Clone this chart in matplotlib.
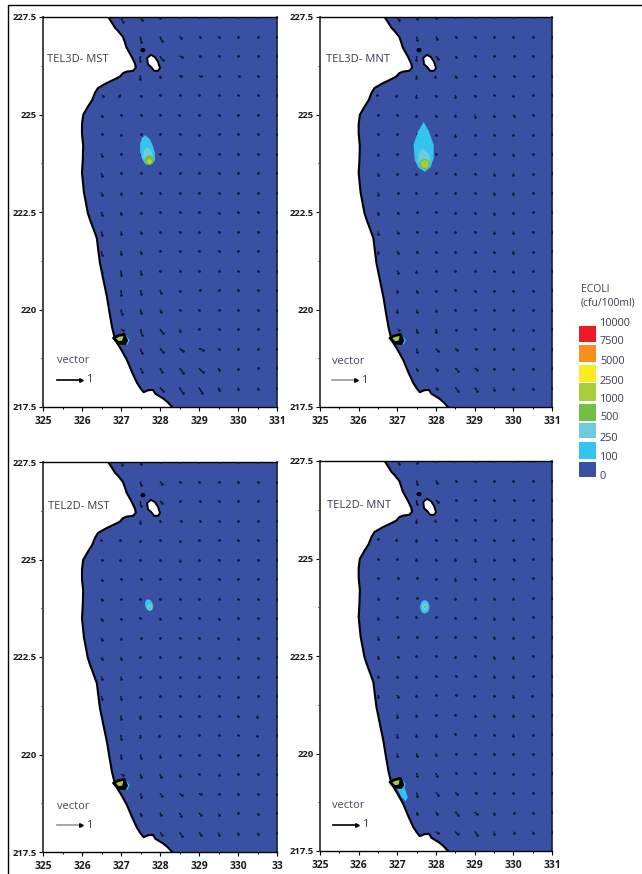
import numpy as np
import matplotlib
matplotlib.use('Agg')
import matplotlib.pyplot as plt
from matplotlib.patches import Polygon, Ellipse, Rectangle
from matplotlib.lines import Line2D

plt.rcParams['font.family'] = ['Open Sans', 'DejaVu Sans']

W, H = 642, 874
_ = np.nan

titles = ['TEL3D- MST', 'TEL3D- MNT', 'TEL2D- MST', 'TEL2D- MNT']
x_ticks = [325, 326, 327, 328, 329, 330, 331]
y_ticks = [217.5, 220, 222.5, 225, 227.5]
y_labels = ['217.5', '220', '222.5', '225', '227.5']

legend_labels = ['10000', '7500', '5000', '2500', '1000', '500', '250', '100', '0']
legend_colors = ['#ed1c24', '#f78e1e', '#f9ed1f', '#a6ce39', '#72bf44', '#6dccda', '#33c4f0', '#3a51a3']

coast_x = [326.67, 326.75, 326.85, 326.92, 327.05, 327.1, 327.14, 327.28, 327.36, 327.38, 327.31, 327.15, 327.05, 326.97,
           326.79, 326.62, 326.41, 326.33, 326.26, 326.15, 326.03, 326.0, 326.0, 326.03, 326.02, 326.0, 326.05, 326.15,
           326.21, 326.3, 326.38, 326.42, 326.46, 326.55, 326.64, 326.7, 326.77, 326.85, 327.0, 327.15, 327.28, 327.41,
           327.5, 327.58, 327.7, 327.82, 327.88, 327.98, 328.08, 328.2, 328.31]
coast_y = [227.5, 227.38, 227.22, 227.15, 226.99, 226.85, 226.72, 226.47, 226.3, 226.2, 226.12, 226.1, 226.06, 225.97,
           225.88, 225.8, 225.68, 225.55, 225.37, 225.2, 224.99, 224.75, 224.5, 224.2, 223.83, 223.5, 223.0, 222.47,
           222.29, 222.05, 221.83, 221.5, 221.19, 220.75, 220.32, 219.95, 219.55, 219.22, 218.98, 218.71, 218.4, 218.12,
           217.98, 217.88, 217.93, 217.94, 217.84, 217.78, 217.72, 217.62, 217.5]
island_x = [327.67, 327.77, 327.87, 327.95, 328.0, 327.95, 327.85, 327.77, 327.69]
island_y = [226.45, 226.53, 226.47, 226.35, 226.19, 226.12, 226.12, 226.22, 226.29]

# source block on the shore
block_x = [326.8, 326.92, 327.08, 327.15, 327.1, 326.95, 326.86]
block_y = [219.27, 219.33, 219.37, 219.2, 219.12, 219.13, 219.2]
block_in_x = [326.87, 326.95, 327.06, 327.03, 326.94]
block_in_y = [219.26, 219.3, 219.32, 219.2, 219.19]
block_cyan_x = [327.08, 327.22, 327.16]
block_cyan_y = [219.38, 219.22, 219.08]

# plume outlines, contour 100 and 250
p1_100_x = [327.62, 327.74, 327.82, 327.87, 327.87, 327.79, 327.72, 327.62, 327.54, 327.49, 327.49, 327.54]
p1_100_y = [224.47, 224.37, 224.19, 224.01, 223.83, 223.73, 223.71, 223.73, 223.86, 224.04, 224.24, 224.40]
p1_250_x = [327.67, 327.77, 327.82, 327.82, 327.72, 327.62, 327.56, 327.59]
p1_250_y = [224.17, 224.09, 223.94, 223.81, 223.73, 223.78, 223.91, 224.09]
p2_100_x = [327.68, 327.81, 327.94, 327.94, 327.86, 327.71, 327.55, 327.45, 327.42, 327.53]
p2_100_y = [224.81, 224.58, 224.22, 223.88, 223.65, 223.53, 223.63, 223.83, 224.22, 224.55]
p2_250_x = [327.65, 327.84, 327.84, 327.71, 327.53, 327.55]
p2_250_y = [224.14, 223.96, 223.76, 223.63, 223.78, 224.01]
p4_shore_x = [327.06, 327.14, 327.27, 327.22, 327.11, 326.98]
p4_shore_y = [219.37, 219.24, 218.88, 218.78, 218.88, 219.14]

# current vectors in hundredths, u+vj, rows y=227.5 down to 218, cols x=326.5 to 331
grid_x = [326.5, 327, 327.5, 328, 328.5, 329, 329.5, 330, 330.5, 331]
grid_y = [227.5, 227, 226.5, 226, 225.5, 225, 224.5, 224, 223.5, 223, 222.5, 222, 221.5, 221, 220.5, 220, 219.5, 219, 218.5, 218]

vec_3d_mst = [
    [_, 8-20j, 5-14j, 2-4j, 1, 0, 0, 0, 0, 0],
    [_, _, 2-22j, 8-20j, 8-6j, 3-2j, 2-1j, 2, 2, 0],
    [_, _, -2-20j, 11-18j, 9-4j, 6-2j, 3, 2, 1, 0],
    [_, _, -3-14j, 2-6j, 8-3j, 8-3j, 2, 3, 2, 0],
    [5-3j, -8-3j, 2-3j, 0, 2-2j, 1, 0, 1, 1, 0],
    [0-5j, 0-2j, 1-2j, 0, -1-3j, 0-3j, 0-2j, 1, 1, 0],
    [0-2j, 0-3j, 1-1j, 0-2j, 1-1j, 0-3j, 0, 0-2j, 1, 0],
    [1-10j, 0-1j, 0-1j, 1-1j, 1, -1-3j, 0-2j, 0, 1, 0],
    [1-12j, 0-1j, 0-1j, 1-1j, 1-2j, 1-2j, 1-2j, 0-2j, 1-1j, 0],
    [1-11j, 1-5j, 1-1j, 1, 0-3j, 1-2j, 0-2j, 1, 1-1j, 0],
    [1-12j, 1-10j, 3-6j, 1-1j, 1-1j, 1-2j, 0-3j, 1-1j, 0-2j, 0],
    [1-14j, 2-11j, 3-7j, 1, 1, 0, 0-2j, 0-2j, 0, 0],
    [1-16j, 1-13j, 3-9j, 0-2j, 1, 1, 0-2j, 0-2j, 0-2j, 0],
    [2-8j, 2-20j, 4-15j, 2-4j, 1-1j, 1, 1, 0-1j, 0-2j, 0],
    [_, 2-20j, 4-18j, 4-12j, 1-4j, 5-2j, 1, 0, 0-2j, 0],
    [_, 3-18j, 3-16j, 6-12j, 1, 1, 1, 0-2j, 0-1j, 0],
    [_, 8-6j, 6-24j, 12-18j, 3-8j, 1-2j, 1, 0-2j, 0-2j, 0],
    [_, _, 6-20j, 12-14j, 16-12j, 16-6j, 2, 1, 0-3j, 0],
    [_, _, 8-16j, 10-18j, 16-20j, 15-18j, 3-10j, 1-3j, 0, 0],
    [_, _, _, 14-16j, 14-24j, 14-24j, 2-12j, 1-6j, 1-6j, 0],
]
vec_3d_mnt = [
    [_, 6-14j, 2-10j, 1-3j, 0, 0, 0, 0, 0, 0],
    [_, _, 2-14j, 6-12j, 4-4j, 1-2j, 1-2j, 0-2j, 0-2j, 0],
    [_, _, -1-18j, 10-14j, 3-4j, 2-1j, 1, 1-1j, 1, 0],
    [_, _, -2-12j, -4-5j, 3-7j, 2-4j, 1, 1-2j, 1, 0],
    [-4-2j, -5-3j, -3-7j, -2-6j, 0-7j, 0-5j, 1-1j, 0-3j, 0-2j, 0],
    [-2-2j, 0-2j, -2-5j, -2-5j, 0-8j, 1-9j, 1-5j, 1-7j, 1-2j, 0],
    [0-1j, 0, 0-2j, 1-3j, 0-7j, 0-4j, 0-3j, 0-5j, 0-4j, 0],
    [0-7j, 0-1j, 0-1j, 0-1j, 0-6j, 0-4j, 0-4j, 0-5j, 0-2j, 0],
    [0-8j, -1-4j, -1-3j, 0-2j, 0-5j, 0-5j, 0-7j, 0-7j, 0-3j, 0],
    [1-9j, 2-3j, -1-3j, 1-1j, 0-3j, 0-3j, 0-7j, 0-7j, 0-3j, 0],
    [1-9j, 2-5j, 1-2j, 1-1j, 0-3j, 0-4j, 0-7j, 0-5j, 0-2j, 0],
    [2-9j, 1-7j, 0-4j, 1-1j, 0-3j, 1-1j, 0-6j, 0-7j, 0-3j, 0],
    [1-9j, 2-10j, 0-6j, 0-4j, 0-3j, 0-3j, 0-4j, -2-8j, 0-4j, 0],
    [_, 1-10j, -1-6j, 0-2j, 0-2j, 0-1j, 0-2j, 0-7j, 0-3j, 0],
    [_, 0-9j, 0-8j, 0-6j, 0-2j, 0-3j, 0-3j, 0-6j, 0-5j, 0],
    [_, 0-9j, 0-9j, 0-7j, 0-2j, 1, 1, 0-2j, 0-4j, 0],
    [_, 5-3j, 1-11j, 2-12j, 2-3j, 0-1j, 0, 0-3j, 0-3j, 0],
    [_, _, 2-13j, 8-11j, 8-5j, 5-4j, 2-2j, 0-3j, 0-4j, 0],
    [_, _, 1-8j, 5-10j, 10-11j, 11-9j, 0-6j, 0-5j, 1-6j, 0],
    [_, _, _, 6-8j, 11-13j, 11-13j, 0-9j, 0-6j, 0-5j, 0],
]
vec_2d_mst = [
    [_, 4-12j, 2-10j, 0-2j, 0, 0, 0, 0, 0, 0],
    [_, _, 2-16j, 8-10j, 3-2j, 1, 1, 1, 1, 0],
    [_, _, 0-20j, 8-10j, 3-1j, 3, 3, 2, 1, 0],
    [_, _, -2-12j, -1-4j, 5-4j, 5-1j, 3-1j, 2, 2-1j, 0],
    [-3-2j, -4-2j, -3-4j, 0-2j, 1-3j, 2-2j, 1, 0, 1-1j, 0],
    [0-3j, -3-2j, -3-2j, 0-2j, 1-6j, 0-2j, 0-4j, 1, 0-1j, 0],
    [0-3j, 1, 1-2j, 0-2j, 1, 1-2j, 1-1j, 1, 0-2j, 0],
    [1-8j, 0-1j, -1-1j, 0-2j, 1, 1-1j, 1-1j, 1, 1, 0],
    [0-10j, 0-5j, -1-1j, 0-3j, 0, 0, 0-6j, 0, 1, 0],
    [0-11j, 0-5j, 1-1j, 0-2j, 1, 0-3j, -1-4j, 0-5j, 1, 0],
    [1-10j, 0-8j, -1-2j, 0-2j, 0-1j, 0-3j, 0-3j, 0-3j, 0-3j, 0],
    [0-9j, 0-9j, -1-4j, -1-2j, 1, 0-1j, 0-1j, 0-4j, 0-1j, 0],
    [1-11j, 1-11j, -1-5j, -1-2j, 1, 1, 1, 0-3j, 0-2j, 0],
    [_, 1-15j, -2-12j, 0-2j, 1-1j, 1, 1, 0-3j, -2-6j, 0],
    [_, 1-15j, -1-10j, -3-5j, -1-4j, 0, 1, 0-2j, -1-5j, 0],
    [_, 2-14j, 1-13j, 2-9j, 0, 1, 1, 1, 0-3j, 0],
    [_, 8-5j, 2-14j, 3-13j, 4-7j, 1-2j, 1-3j, 1-2j, 1, 0],
    [_, _, 3-13j, 7-9j, 9-7j, 8-3j, 0, 1, 1, 0],
    [_, _, 2-10j, 5-10j, 8-11j, 9-9j, 0-7j, 1-2j, 0-3j, 0],
    [_, _, _, 8-9j, 10-13j, 9-11j, 0-10j, 0-6j, 0-6j, 0],
]
vec_2d_mnt = [
    [_, 6-12j, 2-8j, 1-2j, 0, 0, 0, 0, 0, 0],
    [_, _, 2-15j, 5-12j, 3-3j, 1-3j, 1-3j, 0-3j, 0-2j, 0],
    [_, _, 0-18j, 8-10j, 3-2j, 2-2j, 1, 1-1j, 1, 0],
    [_, _, -2-12j, -4-5j, 3-3j, 3-4j, 3-2j, 1-3j, 1, 0],
    [-2-2j, -6-3j, -3-8j, -2-6j, 1-5j, 1-6j, 0-4j, 0-4j, 0-2j, 0],
    [-2-3j, 0-3j, -3-7j, -2-6j, 0-8j, 1-10j, 1-6j, 1-8j, 1-2j, 0],
    [0-1j, 1, 0-2j, 0-3j, 0-7j, 0-5j, 0-4j, 0-6j, 0-2j, 0],
    [2-6j, 0-2j, 0-1j, 1-2j, 0-6j, 0-5j, 0-6j, 0-6j, 1, 0],
    [0-8j, -1-2j, -1-2j, 1-1j, 0-5j, 0-4j, 0-7j, 0-7j, 0-2j, 0],
    [1-9j, 1-3j, 0-1j, 1-1j, 0-4j, 0-3j, -1-7j, 0-5j, 1-1j, 0],
    [2-8j, 1-6j, -1-2j, 1-1j, 0-3j, 0-2j, -1-8j, 0-7j, 0-2j, 0],
    [2-8j, 0-6j, -1-5j, 1-1j, 1-1j, 0-3j, -1-7j, 0-7j, 0-4j, 0],
    [2-10j, 1-9j, -1-6j, 1-1j, 1-1j, -1-4j, 0-5j, -2-8j, -1-5j, 0],
    [_, 0-11j, -2-8j, 0-3j, 0-3j, 0-5j, 0-6j, 0-8j, 0-6j, 0],
    [_, 0-11j, -2-8j, 0-8j, 0-2j, 1-5j, -1-6j, 0-8j, 0-5j, 0],
    [_, 0-9j, 0-12j, 0-8j, 1-1j, 1, 1-1j, 0-2j, 0-4j, 0],
    [_, _, 2-11j, 3-11j, 2-2j, 0-2j, 0, 0-3j, 0-3j, 0],
    [_, _, 2-13j, 8-10j, 8-6j, 7-4j, 1-3j, 0-3j, 0-3j, 0],
    [_, _, 2-9j, 5-10j, 11-11j, 10-10j, 0-7j, 1-4j, 1-3j, 0],
    [_, _, _, 7-8j, 9-12j, 11-13j, 0-9j, 1-5j, 0-5j, 0],
]
vectors = [vec_3d_mst, vec_3d_mnt, vec_2d_mst, vec_2d_mnt]

# axes boxes in pixels: left, top, right, bottom
boxes = [(43, 17, 277, 407), (320, 17, 552, 407), (43, 462, 277, 852), (320, 461, 552, 851)]
title_pos = [(325.1, 226.4), (325.15, 226.4), (325.13, 226.35), (325.18, 226.35)]
key_pos = [(325.36, 218.2), (325.32, 218.18), (325.36, 218.18), (325.33, 218.17)]
key_color = ['black', '#999999', '#999999', 'black']
x_labels = [[str(t) for t in x_ticks] for i in range(4)]
x_labels[2][-1] = '33'

sea = legend_colors[7]
c100, c250, c500, c1000, c2500 = legend_colors[6], legend_colors[5], legend_colors[4], legend_colors[3], legend_colors[2]
UV_SCALE = 1 / 0.64

fig = plt.figure(figsize=(W / 100, H / 100), dpi=100)

for i, box in enumerate(boxes):
    l, t, r, b = box
    ax = fig.add_axes([l / W, 1 - b / H, (r - l) / W, (b - t) / H])
    ax.set_xlim(325, 331)
    ax.set_ylim(217.5, 227.5)
    ax.set_facecolor(sea)

    # plumes sit above the vectors
    if i == 0:
        ax.add_patch(Polygon(np.c_[p1_100_x, p1_100_y], fc=c100, ec='none', zorder=4))
        ax.add_patch(Polygon(np.c_[p1_250_x, p1_250_y], fc=c250, ec='none', zorder=4))
        ax.add_patch(Ellipse((327.72, 223.83), 0.24, 0.25, fc=c500, ec='none', zorder=4))
        ax.add_patch(Ellipse((327.73, 223.8), 0.12, 0.13, fc=c1000, ec='none', zorder=4))
        ax.add_patch(Ellipse((327.73, 223.78), 0.05, 0.05, fc=c2500, ec='none', zorder=4))
    elif i == 1:
        ax.add_patch(Polygon(np.c_[p2_100_x, p2_100_y], fc=c100, ec='none', zorder=4))
        ax.add_patch(Polygon(np.c_[p2_250_x, p2_250_y], fc=c250, ec='none', zorder=4))
        ax.add_patch(Ellipse((327.71, 223.73), 0.26, 0.27, fc=c500, ec='none', zorder=4))
        ax.add_patch(Ellipse((327.71, 223.73), 0.2, 0.2, fc=c1000, ec='none', zorder=4))
    elif i == 2:
        ax.add_patch(Ellipse((327.72, 223.83), 0.2, 0.3, angle=15, fc=c100, ec='none', zorder=4))
        ax.add_patch(Ellipse((327.74, 223.78), 0.13, 0.17, fc=c250, ec='none', zorder=4))
        ax.add_patch(Ellipse((327.74, 223.75), 0.05, 0.05, fc=c500, ec='none', zorder=4))
    else:
        ax.add_patch(Ellipse((327.71, 223.76), 0.24, 0.34, fc=c100, ec='none', zorder=4))
        ax.add_patch(Ellipse((327.71, 223.76), 0.15, 0.2, fc=c250, ec='none', zorder=4))
        ax.add_patch(Ellipse((327.71, 223.76), 0.05, 0.06, fc=c500, ec='none', zorder=4))
        ax.add_patch(Polygon(np.c_[p4_shore_x, p4_shore_y], fc=c100, ec='none'))

    land_x = coast_x + [325, 325]
    land_y = coast_y + [217.5, 227.5]
    ax.add_patch(Polygon(np.c_[land_x, land_y], fc='white', ec='none'))
    ax.plot(coast_x, coast_y, color='black', lw=1.5, solid_joinstyle='round')
    ax.add_patch(Polygon(np.c_[island_x, island_y], fc='white', ec='black', lw=1.4, joinstyle='round'))
    ax.add_patch(Ellipse((327.56, 226.65), 0.13, 0.11, fc='black', ec='none'))

    ax.add_patch(Polygon(np.c_[block_cyan_x, block_cyan_y], fc=c100, ec='none'))
    ax.add_patch(Polygon(np.c_[block_x, block_y], fc='black', ec='black', lw=1.6, joinstyle='round'))
    ax.add_patch(Polygon(np.c_[block_in_x, block_in_y], fc=c1000, ec='none'))

    vec = np.array(vectors[i], dtype=complex)
    gx, gy = np.meshgrid(grid_x, grid_y)
    u = vec.real / 100
    v = vec.imag / 100
    ax.quiver(gx, gy, u, v, angles='xy', scale_units='xy', scale=UV_SCALE,
              units='xy', width=0.04, headwidth=1, headlength=1, headaxislength=1,
              minlength=0.5, color='#10142e', zorder=3)
    # blob at the tip, the arrow heads in the source are just smudges at this size
    ax.scatter(gx + u / UV_SCALE, gy + v / UV_SCALE, s=3.6, color='#10142e', linewidths=0, zorder=3)

    ax.text(title_pos[i][0], title_pos[i][1], titles[i], fontsize=8, color='#3b3b52', va='center', ha='left')

    kx, ky = key_pos[i]
    ax.text(kx - 0.01, ky + 0.49, 'vector', fontsize=8, color='#4a4560', va='center', ha='left')
    ax.plot([kx, kx + 0.62], [ky, ky], color=key_color[i], lw=1.2, zorder=4)
    ax.plot(kx + 0.62, ky, marker='>', ms=2.6, color='black', zorder=5)
    ax.text(kx + 0.75, ky, '1', fontsize=8, color='#3b3b52', va='center', ha='left')

    ax.set_xticks(x_ticks)
    ax.set_xticklabels(x_labels[i], fontsize=7.4, fontweight='bold', color='#1a1a1a')
    ax.set_yticks(y_ticks)
    ax.set_yticklabels(y_labels, fontsize=6.8, fontweight='bold', color='#1a1a1a')
    ax.set_xticks(np.arange(325.5, 331, 1), minor=True)
    ax.set_yticks(np.arange(218.75, 227.5, 2.5), minor=True)
    ax.tick_params(axis='both', which='major', length=3.2, width=0.8, pad=1.5)
    ax.tick_params(axis='both', which='minor', length=1.6, width=0.7)
    ax.tick_params(axis='x', which='major', pad=3.5)
    ax.spines['left'].set_linewidth(1.4)
    ax.spines['left'].set_color('#444444')
    ax.spines['right'].set_linewidth(1.2)
    ax.spines['right'].set_color('#152040')
    ax.spines['top'].set_linewidth(1)
    ax.spines['bottom'].set_linewidth(1)

# legend drawn on the figure, pixel positions
fig.text(581 / W, 1 - 289 / H, 'ECOLI', fontsize=7.5, color='#3b3b52', va='center')
fig.text(581 / W, 1 - 303 / H, '(cfu/100ml)', fontsize=7.5, color='#3b3b52', va='center')
sw_top = [326, 345, 365, 383, 404, 423, 442, 462]
sw_bot = [342, 362, 382, 401, 421, 438, 459, 477]
label_y = [323, 342, 361, 381, 399, 418, 438, 457, 477]
for col, t, b in zip(legend_colors, sw_top, sw_bot):
    fig.add_artist(Rectangle((579 / W, 1 - b / H), 17 / W, (b - t) / H, transform=fig.transFigure, fc=col, ec='none'))
for lab, y in zip(legend_labels, label_y):
    fig.text(600 / W, 1 - y / H, lab, fontsize=7.8, color='#3b3b52', va='center')

# page frame of the scanned figure
fig.add_artist(Line2D([7.5 / W, 7.5 / W, 1], [0, 1 - 5 / H, 1 - 5 / H], transform=fig.transFigure, color='black', lw=1))

fig.savefig('out.png', dpi=100)
